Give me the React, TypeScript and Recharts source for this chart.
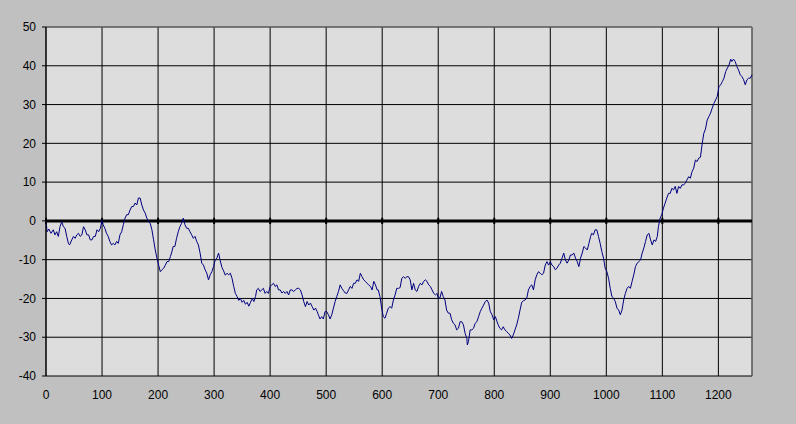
import React from 'react';
import { LineChart, Line, XAxis, YAxis, CartesianGrid, ReferenceLine } from 'recharts';

const xs = [
  0, 2, 5, 9, 13, 16, 19, 22, 25, 28, 31, 34, 37, 40, 42, 46, 49, 52, 55, 58, 61, 64, 67, 70, 73, 76, 79, 82, 85, 88, 91, 94, 97,
  100, 102, 105, 108, 111, 114, 117, 120, 123, 126, 129, 132, 135, 138, 141, 144, 147, 150, 153, 156, 159, 162, 165, 168, 171, 174, 177, 180, 183, 186, 189, 192, 195, 198,
  201, 204, 207, 210, 213, 216, 219, 222, 224, 227, 230, 233, 236, 239, 242, 245, 248, 251, 254, 257, 260, 263, 266, 269, 272, 275, 278, 281, 284, 287, 290, 293, 296, 299,
  302, 305, 308, 311, 314, 317, 320, 323, 326, 329, 332, 335, 338, 341, 344, 347, 350, 353, 356, 359, 362, 365, 368, 371, 374, 376, 379, 382, 385, 388, 391, 394, 397,
  400, 403, 406, 409, 412, 415, 418, 421, 424, 427, 430, 433, 436, 439, 442, 445, 448, 451, 454, 457, 460, 463, 466, 469, 472, 475, 478, 481, 484, 486, 489, 492, 495, 498,
  501, 504, 507, 510, 513, 516, 519, 522, 525, 528, 531, 534, 537, 540, 543, 546, 549, 552, 555, 558, 561, 564, 567, 570, 573, 576, 579, 582, 585, 588, 591, 593, 596, 599,
  602, 605, 608, 611, 614, 617, 620, 623, 626, 629, 632, 635, 638, 641, 644, 647, 650, 653, 656, 659, 662, 665, 668, 671, 674, 677, 680, 683, 686, 689, 692, 695, 698,
  700, 703, 706, 709, 712, 715, 718, 721, 724, 727, 730, 733, 736, 739, 742, 745, 748, 751, 752, 754, 757, 760, 763, 766, 769, 772, 775, 778, 781, 784, 787, 790, 793, 796, 799,
  802, 805, 807, 810, 813, 816, 819, 822, 825, 828, 831, 834, 837, 840, 843, 846, 849, 852, 855, 858, 861, 864, 867, 870, 873, 876, 879, 882, 885, 888, 891, 894, 897,
  900, 903, 906, 909, 912, 915, 918, 921, 924, 927, 930, 933, 936, 939, 942, 945, 948, 951, 954, 957, 960, 963, 966, 969, 972, 974, 977, 980, 983, 986, 989, 992, 995, 998,
  1001, 1004, 1007, 1010, 1013, 1016, 1019, 1022, 1025, 1028, 1031, 1034, 1037, 1040, 1043, 1046, 1049, 1052, 1055, 1058, 1061, 1064, 1067, 1070, 1073, 1076, 1079, 1082, 1085, 1088, 1091, 1093, 1096, 1099,
  1102, 1105, 1108, 1111, 1114, 1117, 1120, 1123, 1126, 1129, 1132, 1135, 1138, 1141, 1144, 1147, 1150, 1153, 1156, 1159, 1162, 1165, 1168, 1171, 1174, 1177, 1180, 1183, 1186, 1189, 1192, 1195, 1198,
  1201, 1204, 1207, 1210, 1213, 1216, 1219, 1222, 1224, 1227, 1230, 1233, 1236, 1239, 1242, 1245, 1248, 1251, 1254, 1257, 1260,
];

const ys = [
  0, -2.8, -2.1, -3.2, -2.3, -3.6, -2.8, -4.0, -1.5, -0.2, -1.5, -1.9, -4.0, -5.8, -6.2, -4.9, -4.0, -4.5, -3.6, -3.2, -4.0, -3.6, -1.5, -2.3, -3.6, -3.6, -4.9, -4.9, -4.0, -4.0, -2.3, -2.8, -1.9,
  0.1, -1.0, -1.9, -3.2, -4.0, -5.3, -6.2, -5.8, -6.2, -5.3, -5.8, -3.6, -2.8, -1.0, 0.7, 1.6, 1.6, 2.8, 3.7, 3.7, 4.6, 4.1, 5.9, 5.9, 4.1, 2.8, 2.0, 0.7, -0.2, -0.6, -2.3, -4.9, -7.5, -9.6,
  -11.4, -13.1, -12.6, -12.2, -11.4, -10.5, -10.5, -9.2, -8.3, -6.6, -6.6, -4.5, -2.8, -1.5, -0.6, 0.7, -1.0, -1.9, -1.9, -2.8, -3.6, -4.5, -4.0, -5.3, -6.2, -8.3, -10.9, -11.4, -12.6, -13.5, -15.2, -13.9, -13.1, -11.8,
  -10.1, -9.6, -8.3, -10.3, -12.0, -12.9, -14.0, -13.5, -13.9, -13.5, -14.8, -16.9, -18.7, -19.5, -20.5, -20.0, -21.0, -20.5, -21.5, -21.0, -22.0, -21.0, -20.0, -20.8, -19.5, -17.8, -17.4, -18.2, -17.8, -17.4, -18.7, -18.2, -18.7,
  -16.9, -16.5, -16.1, -16.9, -16.5, -17.8, -17.8, -18.6, -18.2, -18.7, -18.2, -19.1, -17.8, -17.8, -18.2, -17.8, -17.4, -17.4, -17.8, -19.1, -20.8, -22.1, -20.8, -21.7, -21.2, -22.1, -23.0, -22.5, -23.4, -24.2, -25.3, -24.7, -25.3, -23.4,
  -23.4, -24.2, -25.3, -24.2, -22.5, -20.8, -19.5, -18.2, -16.5, -17.4, -18.0, -18.6, -18.7, -17.8, -16.9, -17.4, -16.1, -16.1, -15.2, -15.6, -13.5, -14.4, -15.2, -15.6, -16.1, -16.5, -16.9, -17.8, -15.6, -16.5, -17.8, -17.8, -19.5, -22.5,
  -24.7, -25.1, -23.8, -22.5, -22.1, -22.5, -20.4, -19.1, -17.4, -17.4, -17.2, -14.8, -14.4, -14.8, -14.4, -14.4, -15.2, -17.8, -16.1, -17.8, -18.2, -16.9, -16.1, -16.5, -15.6, -15.2, -15.6, -16.5, -16.9, -17.8, -18.7, -19.1, -18.7,
  -19.9, -19.9, -18.2, -19.5, -20.4, -23.0, -23.8, -23.8, -25.5, -26.4, -26.8, -28.1, -27.7, -26.0, -26.0, -26.8, -29.0, -30.3, -32.0, -31.1, -28.1, -28.1, -27.7, -26.4, -26.0, -24.7, -23.4, -22.5, -21.7, -20.8, -20.4, -21.2, -23.4, -24.2, -25.5,
  -24.7, -26.0, -26.8, -27.7, -28.1, -27.3, -28.1, -28.5, -29.0, -29.4, -30.3, -29.4, -28.1, -26.8, -25.1, -23.0, -21.0, -20.6, -20.4, -19.9, -17.8, -16.9, -16.5, -17.8, -15.2, -13.9, -13.1, -13.5, -13.9, -13.5, -11.4, -10.5, -11.4,
  -10.5, -11.4, -11.8, -12.6, -12.2, -11.4, -10.9, -9.6, -8.3, -10.1, -10.9, -10.1, -8.8, -8.8, -8.3, -9.6, -10.5, -11.8, -9.6, -8.3, -6.6, -7.0, -7.5, -5.8, -4.0, -3.2, -3.6, -2.3, -2.3, -4.0, -5.8, -7.9, -9.6, -12.2,
  -13.1, -14.8, -17.4, -19.5, -19.9, -20.8, -22.5, -23.0, -24.2, -23.0, -20.4, -18.7, -17.4, -16.9, -17.4, -15.6, -13.9, -11.8, -10.9, -10.5, -10.1, -8.3, -7.0, -5.3, -3.6, -3.2, -4.9, -6.2, -4.9, -5.3, -4.0, -1.5, 0.7, 1.6,
  3.3, 4.6, 5.9, 7.1, 7.1, 8.4, 8.0, 8.9, 7.1, 8.9, 8.4, 9.3, 9.3, 9.7, 10.6, 11.4, 11.0, 12.7, 13.6, 15.7, 15.3, 16.2, 16.4, 19.8, 22.6, 23.7, 26.0, 26.9, 27.8, 29.1, 30.3, 31.2, 32.1,
  34.6, 35.1, 35.9, 36.8, 38.5, 39.4, 40.2, 41.7, 41.1, 41.7, 41.1, 39.8, 38.9, 37.7, 37.2, 36.4, 35.1, 36.4, 36.8, 36.8, 37.7,
];

const xTicks = [0, 100, 200, 300, 400, 500, 600, 700, 800, 900, 1000, 1100, 1200];
const yTicks = [-40, -30, -20, -10, 0, 10, 20, 30, 40, 50];

const data = xs.map((x, i) => ({ x, v: ys[i] }));

const font = { fontSize: 12, fill: '#000', fontFamily: '"Liberation Sans", Arial, sans-serif' };

export default function App() {
  return (
    <div style={{ position: 'absolute', left: 0, top: 0, width: 796, height: 424, background: '#C0C0C0' }}>
      <LineChart width={796} height={424} data={data} margin={{ top: 27, right: 44, bottom: 18, left: 0 }}>
        <CartesianGrid stroke="#000" strokeWidth={1} fill="#DDDDDD" fillOpacity={1} />
        <XAxis
          dataKey="x"
          type="number"
          domain={[0, 1260]}
          ticks={xTicks}
          interval={0}
          axisLine={false}
          tickLine={false}
          tickSize={6}
          tickMargin={8}
          height={30}
          tick={font}
        />
        <YAxis
          type="number"
          domain={[-40, 50]}
          ticks={yTicks}
          interval={0}
          width={46}
          axisLine={{ stroke: '#000' }}
          tickLine={{ stroke: '#000' }}
          tickSize={4}
          tickMargin={6}
          tick={font}
        />
        <ReferenceLine y={50} stroke="#808080" strokeWidth={1} />
        <ReferenceLine x={1260} stroke="#808080" strokeWidth={1} />
        <ReferenceLine y={0} stroke="#000" strokeWidth={3} />
        {xTicks.map((t) => (
          <ReferenceLine
            key={t}
            segment={[{ x: t, y: -0.8 }, { x: t, y: 0.8 }]}
            stroke="#000"
            strokeWidth={2}
          />
        ))}
        <Line
          dataKey="v"
          type="linear"
          stroke="#000080"
          strokeWidth={1}
          dot={false}
          isAnimationActive={false}
        />
      </LineChart>
    </div>
  );
}
